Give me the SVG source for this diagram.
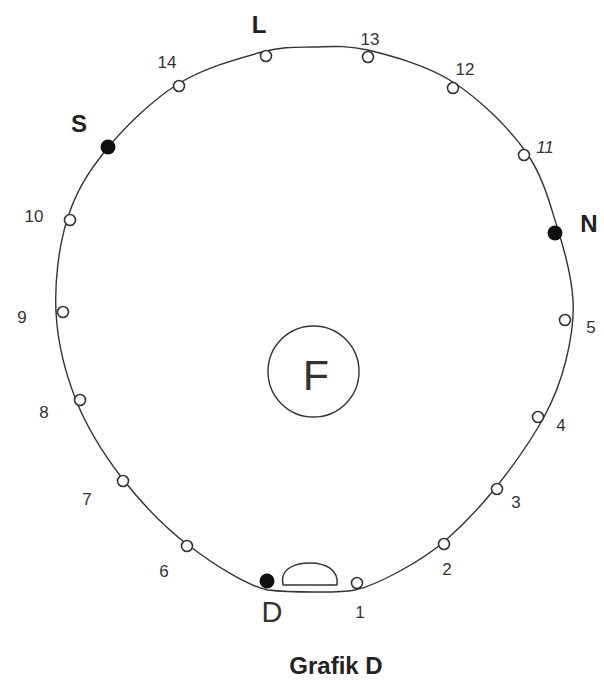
<svg xmlns="http://www.w3.org/2000/svg" width="604" height="680" viewBox="0 0 604 680">
<style>
.line{fill:none;stroke:#333;stroke-width:1.4}
.o{fill:#fff;stroke:#333;stroke-width:1.6}
.f{fill:#111}
.n{font-family:"Liberation Sans",Arial,sans-serif;fill:#333;text-anchor:middle;font-size:17px}
.b{font-family:"Liberation Sans",Arial,sans-serif;fill:#222;text-anchor:middle;font-weight:bold}
.r{font-family:"Liberation Sans",Arial,sans-serif;fill:#333;text-anchor:middle}
</style>
<rect width="604" height="680" fill="#fff"/>
<g id="connectors">
<path class="line" d="M313,47 C330.7,46.7 344.7,44.8 368,50 C391.3,55.8 426.7,65 453,82 C479.3,99 508.5,127.3 526,152 C543.5,176.7 550.2,205.3 558,230 C565.8,254.7 571.7,278.3 573,300 C574.3,321.7 570.8,340.5 566,360 C561.2,379.5 555.5,396 544,417 C532.5,438 513.3,465.5 497,486 C480.7,506.5 462.2,525.8 446,540 C429.8,554.2 415.2,562.8 400,571 C384.8,579.2 369.5,587 355,590 C340.5,592.5 327.5,592 313,592 C298.5,592 285,592 268,590 C247,586 212.3,563.5 188,545 C163.7,526.5 140.7,502.2 122,478 C103.3,453.8 87,427.7 76,400 C65,372.3 57.5,342 56,312 C54.5,282 58.7,247 67,220 C75.3,193 87.5,172.7 106,150 C124.5,127.3 152,100.3 178,84 C204,67.7 239.5,58.2 262,52 C284.5,46.5 295.3,47.3 313,47 Z"/>
</g>
<g id="node-F"><circle class="line" cx="313.5" cy="371.5" r="45.5"/><text class="r" x="316" y="390" font-size="43">F</text></g>
<g id="node-dome"><path class="line" d="M283,585 C279,567 298,563 310,563 C326,563 339,570 337,585 Z"/></g>
<g id="node-L"><circle class="o" cx="266" cy="56" r="5.5"/><text class="b" x="259" y="33" font-size="24">L</text></g>
<g id="node-13"><circle class="o" cx="368" cy="57" r="5.5"/><text class="n" x="370" y="45">13</text></g>
<g id="node-14"><circle class="o" cx="179" cy="86" r="5.5"/><text class="n" x="167" y="68">14</text></g>
<g id="node-12"><circle class="o" cx="453" cy="88" r="5.5"/><text class="n" x="465" y="75">12</text></g>
<g id="node-11"><circle class="o" cx="524" cy="155" r="5.5"/><text class="n" x="545" y="153" font-size="15" font-style="italic">11</text></g>
<g id="node-10"><circle class="o" cx="70" cy="220" r="5.5"/><text class="n" x="34" y="222" font-size="14">10</text></g>
<g id="node-9"><circle class="o" cx="63" cy="312" r="5.5"/><text class="n" x="22" y="323" font-size="18">9</text></g>
<g id="node-5"><circle class="o" cx="565" cy="320" r="5.5"/><text class="n" x="591" y="333" font-size="18">5</text></g>
<g id="node-8"><circle class="o" cx="80" cy="400" r="5.5"/><text class="n" x="44" y="418" font-size="18">8</text></g>
<g id="node-4"><circle class="o" cx="538" cy="417" r="5.5"/><text class="n" x="561" y="431" font-size="20">4</text></g>
<g id="node-7"><circle class="o" cx="123" cy="481" r="5.5"/><text class="n" x="87" y="505" font-size="18">7</text></g>
<g id="node-3"><circle class="o" cx="497" cy="489" r="5.5"/><text class="n" x="516" y="508" font-size="18">3</text></g>
<g id="node-6"><circle class="o" cx="187" cy="546" r="5.5"/><text class="n" x="164" y="577" font-size="18">6</text></g>
<g id="node-2"><circle class="o" cx="444" cy="544" r="5.5"/><text class="n" x="447" y="575">2</text></g>
<g id="node-1"><circle class="o" cx="357" cy="583" r="5.5"/><text class="n" x="360" y="618" font-size="16">1</text></g>
<g id="node-S"><circle class="f" cx="108" cy="147" r="7.5"/><text class="b" x="79" y="132" font-size="24">S</text></g>
<g id="node-N"><circle class="f" cx="555" cy="233" r="7.5"/><text class="b" x="589" y="232" font-size="24">N</text></g>
<g id="node-D"><circle class="f" cx="267" cy="581" r="7.5"/><text class="r" x="272" y="622" font-size="29">D</text></g>
<g id="caption"><text class="b" x="336" y="674" font-size="24">Grafik D</text></g>
</svg>
